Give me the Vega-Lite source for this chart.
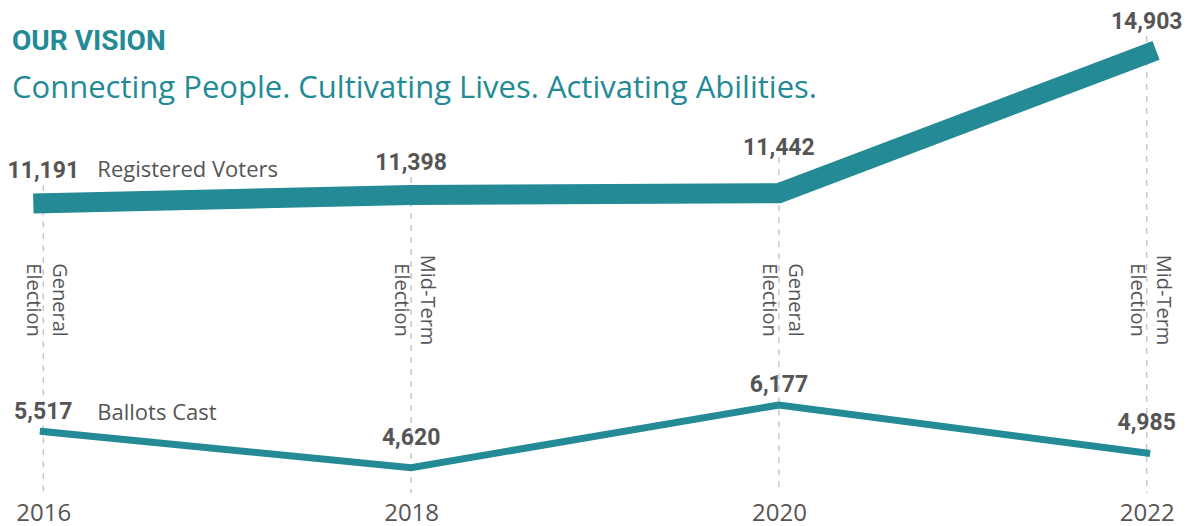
{
  "$schema": "https://vega.github.io/schema/vega-lite/v6.json",
  "width": 1188,
  "height": 493,
  "autosize": {"type": "none"},
  "padding": {"top": 0, "left": 0, "right": 0, "bottom": 33},
  "background": "white",
  "config": {"view": {"stroke": null}, "font": "Open Sans"},
  "title": {
    "text": "OUR VISION",
    "subtitle": "Connecting People. Cultivating Lives. Activating Abilities.",
    "anchor": "start",
    "frame": "group",
    "offset": 0,
    "dx": 12,
    "dy": 104,
    "font": "Roboto",
    "fontSize": 28,
    "fontWeight": "bold",
    "color": "#238a96",
    "subtitleFont": "Open Sans",
    "subtitleFontSize": 31,
    "subtitleColor": "#238a96",
    "subtitlePadding": 18
  },
  "data": {
    "values": [
      {"year": 2016, "registered": 11191, "ballots": 5517, "election": "General Election"},
      {"year": 2018, "registered": 11398, "ballots": 4620, "election": "Mid-Term Election"},
      {"year": 2020, "registered": 11442, "ballots": 6177, "election": "General Election"},
      {"year": 2022, "registered": 14903, "ballots": 4985, "election": "Mid-Term Election"}
    ]
  },
  "encoding": {
    "x": {
      "field": "year",
      "type": "quantitative",
      "scale": {"domain": [2015.7645, 2022.2246], "nice": false, "zero": false},
      "axis": {
        "values": [2016, 2018, 2020, 2022],
        "format": "d",
        "title": null,
        "domain": false,
        "ticks": false,
        "tickSize": 0,
        "grid": false,
        "labelFontSize": 24,
        "labelColor": "#555555",
        "labelPadding": 8,
        "labelFont": "Open Sans",
        "labelFlush": false
      }
    }
  },
  "layer": [
    {
      "transform": [{"filter": "datum.year != 2020"}],
      "mark": {"type": "rule", "color": "#c8c8c8", "strokeWidth": 1.5, "strokeDash": [6, 6], "yOffset": -18},
      "encoding": {
        "y": {"field": "registered", "type": "quantitative", "scale": {"domain": [3990, 16244], "nice": false, "zero": false}, "axis": null},
        "y2": {"datum": 3990}
      }
    },
    {
      "transform": [{"filter": "datum.year == 2020"}],
      "mark": {"type": "rule", "color": "#c8c8c8", "strokeWidth": 1.5, "strokeDash": [6, 6], "yOffset": -36},
      "encoding": {
        "y": {"field": "registered", "type": "quantitative", "scale": {"domain": [3990, 16244], "nice": false, "zero": false}, "axis": null},
        "y2": {"datum": 3990}
      }
    },
    {
      "mark": {"type": "text", "angle": 90, "align": "center", "baseline": "alphabetic", "dy": -10, "lineBreak": " ", "lineHeight": 26, "fontSize": 20, "color": "#555555", "font": "Open Sans"},
      "encoding": {
        "y": {"datum": 8787, "type": "quantitative", "scale": {"domain": [3990, 16244], "nice": false, "zero": false}, "axis": null},
        "text": {"field": "election"}
      }
    },
    {
      "mark": {"type": "line", "strokeWidth": 20, "strokeCap": "square", "color": "#238a96"},
      "encoding": {
        "y": {"field": "registered", "type": "quantitative", "scale": {"domain": [3990, 16244], "nice": false, "zero": false}, "axis": null}
      }
    },
    {
      "mark": {"type": "line", "strokeWidth": 7, "strokeCap": "square", "color": "#238a96"},
      "encoding": {
        "y": {"field": "ballots", "type": "quantitative", "scale": {"domain": [3990, 16244], "nice": false, "zero": false}, "axis": null}
      }
    },
    {
      "transform": [{"filter": "datum.year != 2020"}],
      "mark": {"type": "text", "align": "center", "baseline": "alphabetic", "dy": -25, "fontSize": 23, "fontWeight": "bold", "color": "#555555", "font": "Roboto"},
      "encoding": {
        "y": {"field": "registered", "type": "quantitative", "scale": {"domain": [3990, 16244], "nice": false, "zero": false}, "axis": null},
        "text": {"field": "registered", "type": "quantitative", "format": ","}
      }
    },
    {
      "transform": [{"filter": "datum.year == 2020"}],
      "mark": {"type": "text", "align": "center", "baseline": "alphabetic", "dy": -38, "fontSize": 23, "fontWeight": "bold", "color": "#555555", "font": "Roboto"},
      "encoding": {
        "y": {"field": "registered", "type": "quantitative", "scale": {"domain": [3990, 16244], "nice": false, "zero": false}, "axis": null},
        "text": {"field": "registered", "type": "quantitative", "format": ","}
      }
    },
    {
      "transform": [{"filter": "datum.year == 2016 || datum.year == 2020"}],
      "mark": {"type": "text", "align": "center", "baseline": "alphabetic", "dy": -13, "fontSize": 23, "fontWeight": "bold", "color": "#555555", "font": "Roboto"},
      "encoding": {
        "y": {"field": "ballots", "type": "quantitative", "scale": {"domain": [3990, 16244], "nice": false, "zero": false}, "axis": null},
        "text": {"field": "ballots", "type": "quantitative", "format": ","}
      }
    },
    {
      "transform": [{"filter": "datum.year == 2018 || datum.year == 2022"}],
      "mark": {"type": "text", "align": "center", "baseline": "alphabetic", "dy": -23, "fontSize": 23, "fontWeight": "bold", "color": "#555555", "font": "Roboto"},
      "encoding": {
        "y": {"field": "ballots", "type": "quantitative", "scale": {"domain": [3990, 16244], "nice": false, "zero": false}, "axis": null},
        "text": {"field": "ballots", "type": "quantitative", "format": ","}
      }
    },
    {
      "transform": [{"filter": "datum.year == 2016"}],
      "mark": {"type": "text", "align": "left", "baseline": "alphabetic", "dx": 54, "dy": -26, "fontSize": 22, "color": "#555555", "font": "Open Sans"},
      "encoding": {
        "y": {"field": "registered", "type": "quantitative", "scale": {"domain": [3990, 16244], "nice": false, "zero": false}, "axis": null},
        "text": {"value": "Registered Voters"}
      }
    },
    {
      "transform": [{"filter": "datum.year == 2016"}],
      "mark": {"type": "text", "align": "left", "baseline": "alphabetic", "dx": 54, "dy": -12, "fontSize": 22, "color": "#555555", "font": "Open Sans"},
      "encoding": {
        "y": {"field": "ballots", "type": "quantitative", "scale": {"domain": [3990, 16244], "nice": false, "zero": false}, "axis": null},
        "text": {"value": "Ballots Cast"}
      }
    }
  ]
}
